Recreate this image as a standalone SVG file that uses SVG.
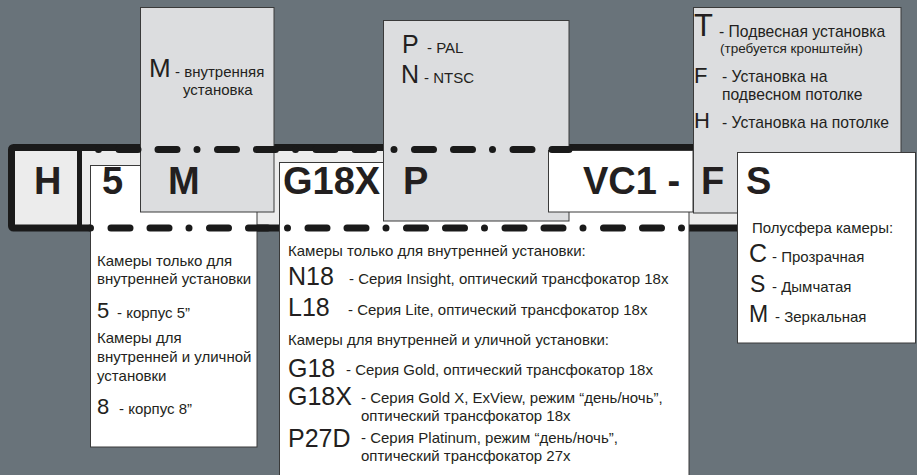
<svg xmlns="http://www.w3.org/2000/svg" width="917" height="475" viewBox="0 0 917 475">
<style>
text{font-family:"Liberation Sans",Arial,sans-serif;fill:#231f20}
.big{font-size:38px;font-weight:bold}
.L{font-size:25px}
.m{font-size:15px}
.f{font-size:15.7px}
.s{font-size:13.5px}
.gray{fill:#dcdddf;stroke:#3a3a3a;stroke-width:1}
.white{fill:#ffffff;stroke:#3a3a3a;stroke-width:1}
.dash{fill:none;stroke:#1a1a1a;stroke-width:7;stroke-linecap:round;stroke-dasharray:0 20.5 19 20 19 20}
</style>
<rect width="917" height="475" fill="#69737a"/>
<g id="bar">
<rect x="11.5" y="147.5" width="880" height="80.5" rx="2" fill="#ececec" stroke="#1a1a1a" stroke-width="7"/>
<line x1="79.5" y1="147.5" x2="79.5" y2="228" stroke="#1a1a1a" stroke-width="5"/>
<text class="big" x="34" y="194">H</text>
</g>
<g id="node-5">
<rect class="white" x="90.5" y="165.5" width="166.5" height="281.5"/>
<text class="big" x="102" y="194">5</text>
<text class="m" x="97" y="266">Камеры только для</text>
<text class="m" x="97" y="284">внутренней установки</text>
<text class="L" x="97" y="318" style="font-size:22px">5</text>
<text class="m" x="117" y="318">- корпус 5”</text>
<text class="m" x="97" y="343">Камеры для</text>
<text class="m" x="97" y="362">внутренней и уличной</text>
<text class="m" x="97" y="381">установки</text>
<text class="L" x="97" y="414" style="font-size:22px">8</text>
<text class="m" x="119" y="414">- корпус 8”</text>
</g>
<g id="node-g18x">
<rect class="white" x="279.5" y="162.5" width="409.5" height="320"/>
<text class="big" x="283" y="194">G18X</text>
<text class="m" x="288" y="256">Камеры только для внутренней установки:</text>
<text class="L" x="288" y="285">N18</text>
<text class="m" x="349" y="284">- Серия Insight, оптический трансфокатор 18x</text>
<text class="L" x="288" y="316">L18</text>
<text class="m" x="348" y="315">- Серия Lite, оптический трансфокатор 18x</text>
<text class="m" x="288" y="345">Камеры для внутренней и уличной установки:</text>
<text class="L" x="288" y="377">G18</text>
<text class="m" x="346" y="375">- Серия Gold, оптический трансфокатор 18x</text>
<text class="L" x="288" y="405">G18X</text>
<text class="m" x="361" y="403">- Серия Gold X, ExView, режим “день/ночь”,</text>
<text class="m" x="361" y="421">оптический трансфокатор 18x</text>
<text class="L" x="288" y="447">P27D</text>
<text class="m" x="361" y="443">- Серия Platinum, режим “день/ночь”,</text>
<text class="m" x="361" y="461">оптический трансфокатор 27x</text>
</g>
<g id="node-m">
<rect class="gray" x="140.5" y="7.5" width="133.5" height="204.5"/>
<text class="big" x="168" y="194">M</text>
<text class="L" x="149" y="77" style="font-size:26px">M</text>
<text class="m" x="175" y="77">- внутренняя</text>
<text class="m" x="183" y="95">установка</text>
</g>
<g id="node-p">
<rect class="gray" x="383.5" y="20.5" width="185.5" height="200.5"/>
<text class="big" x="403" y="194">P</text>
<text class="L" x="402" y="53">P</text>
<text class="m" x="427" y="53">- PAL</text>
<text class="L" x="401" y="83">N</text>
<text class="m" x="424" y="83">- NTSC</text>
</g>
<g id="node-vc1">
<rect class="white" x="548.5" y="150.5" width="144.5" height="61.5"/>
<text class="big" x="583" y="194">VC1 -</text>
</g>
<g id="node-f">
<rect class="gray" x="693.5" y="7.5" width="207.5" height="205.5"/>
<text class="big" x="701" y="194">F</text>
<text class="L" x="694" y="36" style="font-size:31px">T</text>
<text class="f" x="719" y="37">- Подвесная установка</text>
<text class="s" x="720" y="53">(требуется кронштейн)</text>
<text class="L" x="694" y="83" style="font-size:22px">F</text>
<text class="f" x="722" y="82">- Установка на</text>
<text class="f" x="722" y="100">подвесном потолке</text>
<text class="L" x="694" y="128" style="font-size:22px">H</text>
<text class="f" x="722" y="128">- Установка на потолке</text>
</g>
<g id="node-s">
<rect class="white" x="737.5" y="152.5" width="178" height="190.5"/>
<text class="big" x="746" y="194">S</text>
<text class="m" x="752" y="233">Полусфера камеры:</text>
<text class="L" x="749" y="262">C</text>
<text class="m" x="772" y="262">- Прозрачная</text>
<text class="L" x="750" y="292" style="font-size:23px">S</text>
<text class="m" x="772" y="292">- Дымчатая</text>
<text class="L" x="749" y="322" style="font-size:23px">M</text>
<text class="m" x="775" y="322">- Зеркальная</text>
</g>
<g id="connectors">
<path class="dash" d="M98.5 149.5H569"/>
<path class="dash" d="M90.5 228H689"/>
</g>
</svg>
